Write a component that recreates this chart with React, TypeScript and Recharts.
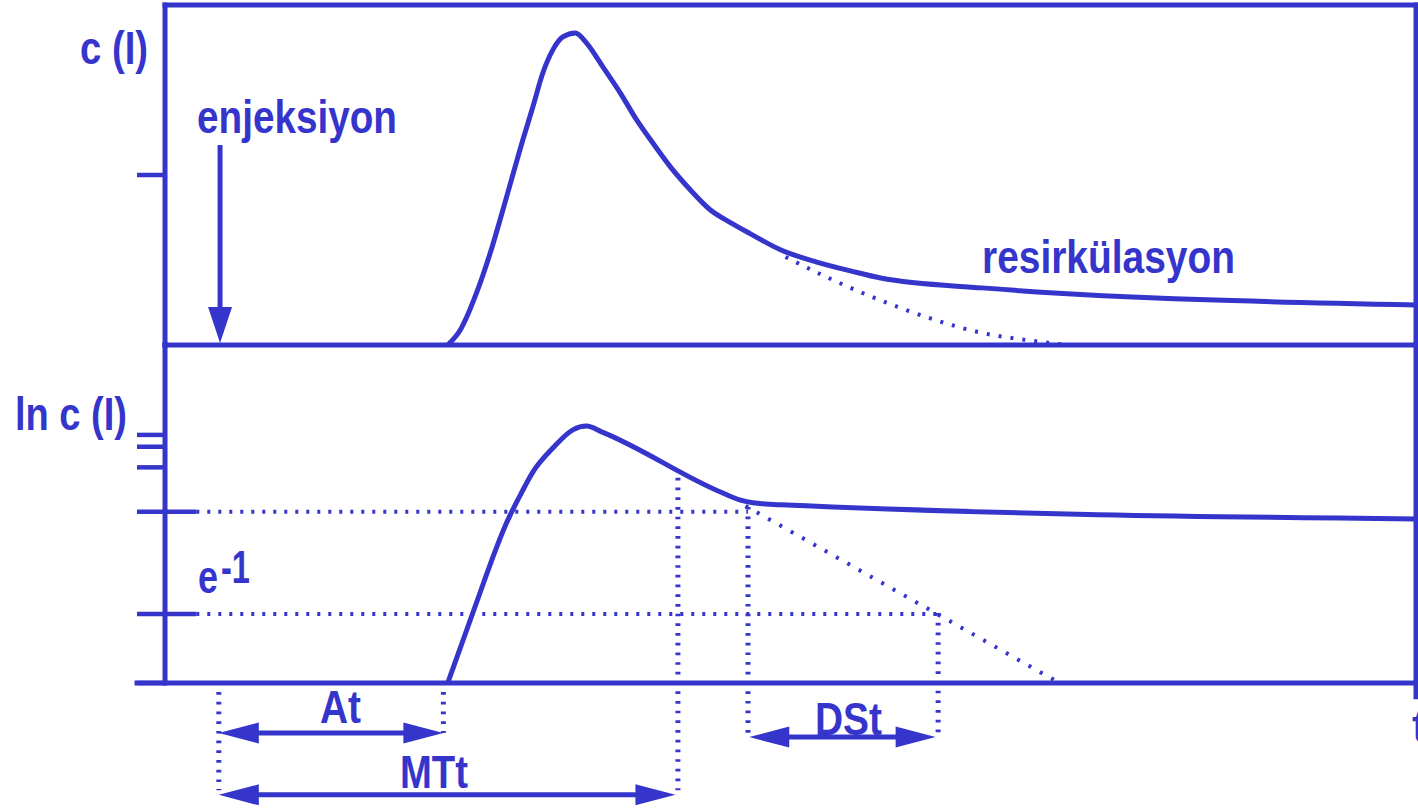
import React from 'react';
import { ComposedChart, Line, XAxis, YAxis, ReferenceLine } from 'recharts';

const BLUE = '#3535cc';
const W = 1418;
const H = 809;

// time axis in arbitrary units: 0 = y axis, 100 = right frame; left of 0 holds the tick marks
const TIME_DOMAIN = [-2.24, 100];
const TICK_OUT = -2.24;
const TICK_IN = 2.5;

// upper panel: c(t), 0 = baseline, 100 = top frame
const concCurve = [
  { t: 22.6, c: 0 }, { t: 23.6, c: 4.4 }, { t: 24.9, c: 15.3 }, { t: 26.0, c: 27.1 },
  { t: 27.3, c: 43.5 }, { t: 28.6, c: 60.3 }, { t: 29.4, c: 70.0 }, { t: 30.2, c: 80.0 },
  { t: 31.0, c: 86.8 }, { t: 31.8, c: 90.6 }, { t: 32.8, c: 91.8 }, { t: 33.7, c: 88.8 },
  { t: 35.0, c: 81.8 }, { t: 36.4, c: 74.1 }, { t: 37.7, c: 66.2 }, { t: 39.0, c: 59.4 },
  { t: 40.4, c: 52.4 }, { t: 42.0, c: 45.6 }, { t: 43.6, c: 39.7 }, { t: 45.2, c: 36.0 },
  { t: 46.8, c: 32.7 }, { t: 49.2, c: 28.0 }, { t: 52.1, c: 24.4 }, { t: 54.8, c: 21.8 },
  { t: 57.2, c: 19.7 }, { t: 65.3, c: 16.8 }, { t: 100, c: 11.8 },
];
const concWashout = [
  { t: 49.6, c: 25.9 }, { t: 53.4, c: 19.1 }, { t: 58.8, c: 10.9 },
  { t: 65.4, c: 3.5 }, { t: 69.4, c: 1.2 }, { t: 72.1, c: 0 },
];
const concTicks = [50];

// lower panel: ln c(t), 0 = baseline, 100 = panel top; negatives hold the time marks
const LN_DOMAIN = [-37.28, 100];
const lnCurve = [
  { t: 22.6, v: 0 }, { t: 24.6, v: 20.7 }, { t: 27.4, v: 48.2 }, { t: 28.4, v: 55.6 },
  { t: 29.4, v: 62.4 }, { t: 31.0, v: 69.5 }, { t: 32.6, v: 74.9 }, { t: 33.7, v: 76.0 },
  { t: 34.9, v: 74.3 }, { t: 44.4, v: 56.5 }, { t: 46.0, v: 54.1 }, { t: 47.0, v: 53.3 },
  { t: 49.2, v: 52.7 }, { t: 100, v: 48.5 },
];
const lnWashout = [{ t: 46.4, v: 52.4 }, { t: 71.5, v: 0 }];
const lnTicks = [73.4, 69.9, 63.8, 0];
const LEVEL_REF = 50.7;
const LEVEL_E1 = 20.4;

// time marks
const T_INJECT = 4.3;
const T_ARRIVAL = 22.25;
const T_MEAN = 41.0;
const T_DS_START = 46.6;
const T_DS_END = 61.8;

// rows of the interval arrows (lower panel units)
const ROW_AT = -14.8;
const ROW_DST = -16.0;
const ROW_MTT = -33.1;

const arrowShape = (both: boolean, len: number, half: number) => (p: any) => {
  const { x1, y1, x2, y2 } = p;
  const dx = x2 - x1;
  const dy = y2 - y1;
  const d = Math.hypot(dx, dy) || 1;
  const ux = dx / d;
  const uy = dy / d;
  const nx = -uy;
  const ny = ux;
  const head = (tx: number, ty: number, sx: number, sy: number) => {
    const bx = tx - sx * len;
    const by = ty - sy * len;
    return `${tx},${ty} ${bx + nx * half},${by + ny * half} ${bx - nx * half},${by - ny * half}`;
  };
  const s = both ? len * 0.5 : 0;
  return (
    <g>
      <line
        x1={x1 + ux * s}
        y1={y1 + uy * s}
        x2={x2 - ux * len * 0.5}
        y2={y2 - uy * len * 0.5}
        stroke={BLUE}
        strokeWidth={5}
      />
      <polygon points={head(x2, y2, ux, uy)} fill={BLUE} />
      {both && <polygon points={head(x1, y1, -ux, -uy)} fill={BLUE} />}
    </g>
  );
};

const hDots = { stroke: BLUE, strokeWidth: 4, strokeDasharray: '3 8' };
const vDots = { stroke: BLUE, strokeWidth: 5, strokeDasharray: '2.7 7' };
const frame = { stroke: BLUE, strokeWidth: 5, strokeLinecap: 'square' as const };
const tickMark = { stroke: BLUE, strokeWidth: 4.5 };

const label = {
  fill: BLUE,
  fontFamily: '"Liberation Sans", Arial, sans-serif',
  fontWeight: 700,
  fontSize: 46,
  lengthAdjust: 'spacingAndGlyphs' as const,
};

export default function App() {
  return (
    <div style={{ position: 'absolute', left: 0, top: 0, width: W, height: H, background: '#fff' }}>
      {/* lower panel: ln c(t) */}
      <div style={{ position: 'absolute', left: 0, top: 0 }}>
        <ComposedChart width={W} height={H} margin={{ top: 345, right: 2, bottom: 0, left: 137 }}>
          <XAxis type="number" dataKey="t" domain={TIME_DOMAIN} allowDataOverflow hide />
          <YAxis type="number" domain={LN_DOMAIN} allowDataOverflow hide />
          <ReferenceLine segment={[{ x: 0, y: 0 }, { x: 0, y: 100 }]} {...frame} />
          <ReferenceLine segment={[{ x: TICK_OUT, y: 0 }, { x: 100, y: 0 }]} {...frame} />
          <ReferenceLine segment={[{ x: 100, y: -4.1 }, { x: 100, y: 100 }]} {...frame} />
          {lnTicks.map((v) => (
            <ReferenceLine key={v} segment={[{ x: TICK_OUT, y: v }, { x: 0, y: v }]} {...tickMark} />
          ))}

          <ReferenceLine segment={[{ x: TICK_OUT, y: LEVEL_REF }, { x: TICK_IN, y: LEVEL_REF }]} {...tickMark} />
          <ReferenceLine segment={[{ x: TICK_OUT, y: LEVEL_E1 }, { x: TICK_IN, y: LEVEL_E1 }]} {...tickMark} />
          <ReferenceLine segment={[{ x: TICK_IN, y: LEVEL_REF }, { x: T_DS_START, y: LEVEL_REF }]} {...hDots} />
          <ReferenceLine segment={[{ x: TICK_IN, y: LEVEL_E1 }, { x: T_DS_END, y: LEVEL_E1 }]} {...hDots} />

          <ReferenceLine segment={[{ x: T_INJECT, y: -2.7 }, { x: T_INJECT, y: -31.7 }]} {...vDots} />
          <ReferenceLine segment={[{ x: T_ARRIVAL, y: -2.7 }, { x: T_ARRIVAL, y: -14.8 }]} {...vDots} />
          <ReferenceLine segment={[{ x: T_MEAN, y: 60.7 }, { x: T_MEAN, y: -31.7 }]} {...vDots} />
          <ReferenceLine segment={[{ x: T_DS_START, y: 52.1 }, { x: T_DS_START, y: -15.4 }]} {...vDots} />
          <ReferenceLine segment={[{ x: T_DS_END, y: 20.7 }, { x: T_DS_END, y: -14.8 }]} {...vDots} />

          <ReferenceLine segment={[{ x: T_INJECT, y: ROW_AT }, { x: T_ARRIVAL, y: ROW_AT }]} shape={arrowShape(true, 40, 10.5)} />
          <ReferenceLine segment={[{ x: T_INJECT, y: ROW_MTT }, { x: T_MEAN - 0.2, y: ROW_MTT }]} shape={arrowShape(true, 40, 10.5)} />
          <ReferenceLine segment={[{ x: T_DS_START + 0.1, y: ROW_DST }, { x: T_DS_END - 0.2, y: ROW_DST }]} shape={arrowShape(true, 40, 10.5)} />

          <Line
            data={lnWashout}
            dataKey="v"
            type="linear"
            stroke={BLUE}
            strokeWidth={4}
            strokeDasharray="3 10"
            dot={false}
            isAnimationActive={false}
          />
          <Line
            data={lnCurve}
            dataKey="v"
            type="monotone"
            stroke={BLUE}
            strokeWidth={5}
            strokeLinejoin="round"
            dot={false}
            isAnimationActive={false}
          />
        </ComposedChart>
      </div>

      {/* upper panel: c(t) */}
      <div style={{ position: 'absolute', left: 0, top: 0 }}>
        <ComposedChart width={W} height={H} margin={{ top: 5, right: 2, bottom: 464, left: 137 }}>
          <XAxis type="number" dataKey="t" domain={TIME_DOMAIN} allowDataOverflow hide />
          <YAxis type="number" domain={[0, 100]} allowDataOverflow hide />
          <ReferenceLine segment={[{ x: 0, y: 0 }, { x: 0, y: 100 }]} {...frame} />
          <ReferenceLine segment={[{ x: 0, y: 100 }, { x: 100, y: 100 }]} {...frame} />
          <ReferenceLine segment={[{ x: 0, y: 0 }, { x: 100, y: 0 }]} {...frame} />
          <ReferenceLine segment={[{ x: 100, y: 0 }, { x: 100, y: 100 }]} {...frame} />
          {concTicks.map((c) => (
            <ReferenceLine key={c} segment={[{ x: TICK_OUT, y: c }, { x: 0, y: c }]} {...tickMark} />
          ))}

          <ReferenceLine segment={[{ x: T_INJECT + 0.1, y: 58.8 }, { x: T_INJECT + 0.1, y: 0.6 }]} shape={arrowShape(false, 36, 12)} />

          <Line
            data={concWashout}
            dataKey="c"
            type="monotone"
            stroke={BLUE}
            strokeWidth={4}
            strokeDasharray="3 9"
            dot={false}
            isAnimationActive={false}
          />
          <Line
            data={concCurve}
            dataKey="c"
            type="monotone"
            stroke={BLUE}
            strokeWidth={5}
            strokeLinejoin="round"
            dot={false}
            isAnimationActive={false}
          />
        </ComposedChart>
      </div>

      <svg width={W} height={H} style={{ position: 'absolute', left: 0, top: 0, pointerEvents: 'none' }}>
        <text x={80} y={64} textLength={68} {...label}>c (I)</text>
        <text x={197} y={133} textLength={200} {...label}>enjeksiyon</text>
        <text x={982} y={273} textLength={253} {...label}>resirkülasyon</text>
        <text x={15} y={430} textLength={112} {...label}>ln c (I)</text>
        <text x={198} y={593} textLength={20} {...label}>e</text>
        <text x={221} y={583} textLength={29} {...label}>-1</text>
        <text x={320} y={723} textLength={41} {...label}>At</text>
        <text x={400} y={788} textLength={68} {...label}>MTt</text>
        <text x={815} y={735} textLength={67} {...label}>DSt</text>
        <text x={1412} y={742} {...label}>t</text>
      </svg>
    </div>
  );
}
